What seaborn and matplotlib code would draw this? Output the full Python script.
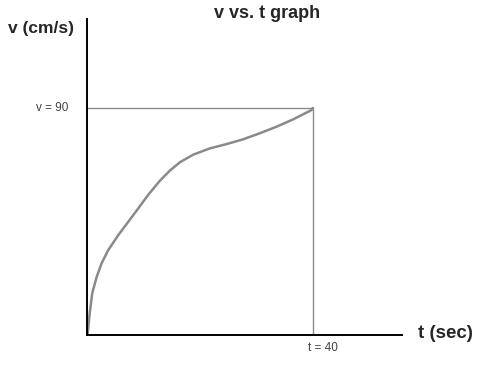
import matplotlib
matplotlib.use("Agg")
import matplotlib.pyplot as plt
import seaborn as sns
import pandas as pd

t_values = [0, 0.12, 0.48, 0.94, 1.72, 2.60, 3.77, 5.54, 7.31, 9.08, 10.85, 12.92,
            14.69, 16.46, 18.81, 21.77, 24.73, 27.66, 30.62, 33.58, 36.51, 39.77, 40]
v_values = [0, 0.4, 8.7, 16.7, 23.1, 28.5, 33.7, 39.6, 44.9, 50.2, 55.6, 61.2,
            65.2, 68.5, 71.5, 74.0, 75.7, 77.6, 80.0, 82.6, 85.5, 89.2, 90]
t_mark = 40
v_mark = 90

sns.set_style("white")
plt.rcParams['font.family'] = ['Liberation Sans', 'DejaVu Sans']

df = pd.DataFrame({"t": t_values, "v": v_values})

fig = plt.figure(figsize=(4.78, 3.71), dpi=100)
ax = fig.add_axes([87/478, 36/371, 315/478, 316/371])

sns.lineplot(data=df, x="t", y="v", ax=ax, color="#8a8a8a", linewidth=1.8)
ax.plot([0, t_mark], [v_mark, v_mark], color="#8a8a8a", linewidth=1)
ax.plot([t_mark, t_mark], [0, v_mark], color="#8a8a8a", linewidth=1)

ax.set_xlim(0, 55.8)
ax.set_ylim(0, 125.3)
ax.set_xticks([])
ax.set_yticks([])
ax.set_xlabel("")
ax.set_ylabel("")
for s in ["top", "right"]:
    ax.spines[s].set_visible(False)
for s in ["left", "bottom"]:
    ax.spines[s].set_color("black")
    ax.spines[s].set_linewidth(1.4)

fig.text(267/478, 1 - 14/371, "v vs. t graph", ha="center", va="center",
         fontsize=13, fontweight="bold")
fig.text(8/478, 1 - 28/371, "v (cm/s)", ha="left", va="center",
         fontsize=12.5, fontweight="bold")
fig.text(418/478, 1 - 334/371, "t (sec)", ha="left", va="center",
         fontsize=13.5, fontweight="bold")
fig.text(68/478, 1 - 108/371, "v = 90", ha="right", va="center",
         fontsize=8.5, color="#444444")
fig.text(308/478, 1 - 348/371, "t = 40", ha="left", va="center",
         fontsize=8.5, color="#444444")
fig.savefig("out.png", dpi=100)
